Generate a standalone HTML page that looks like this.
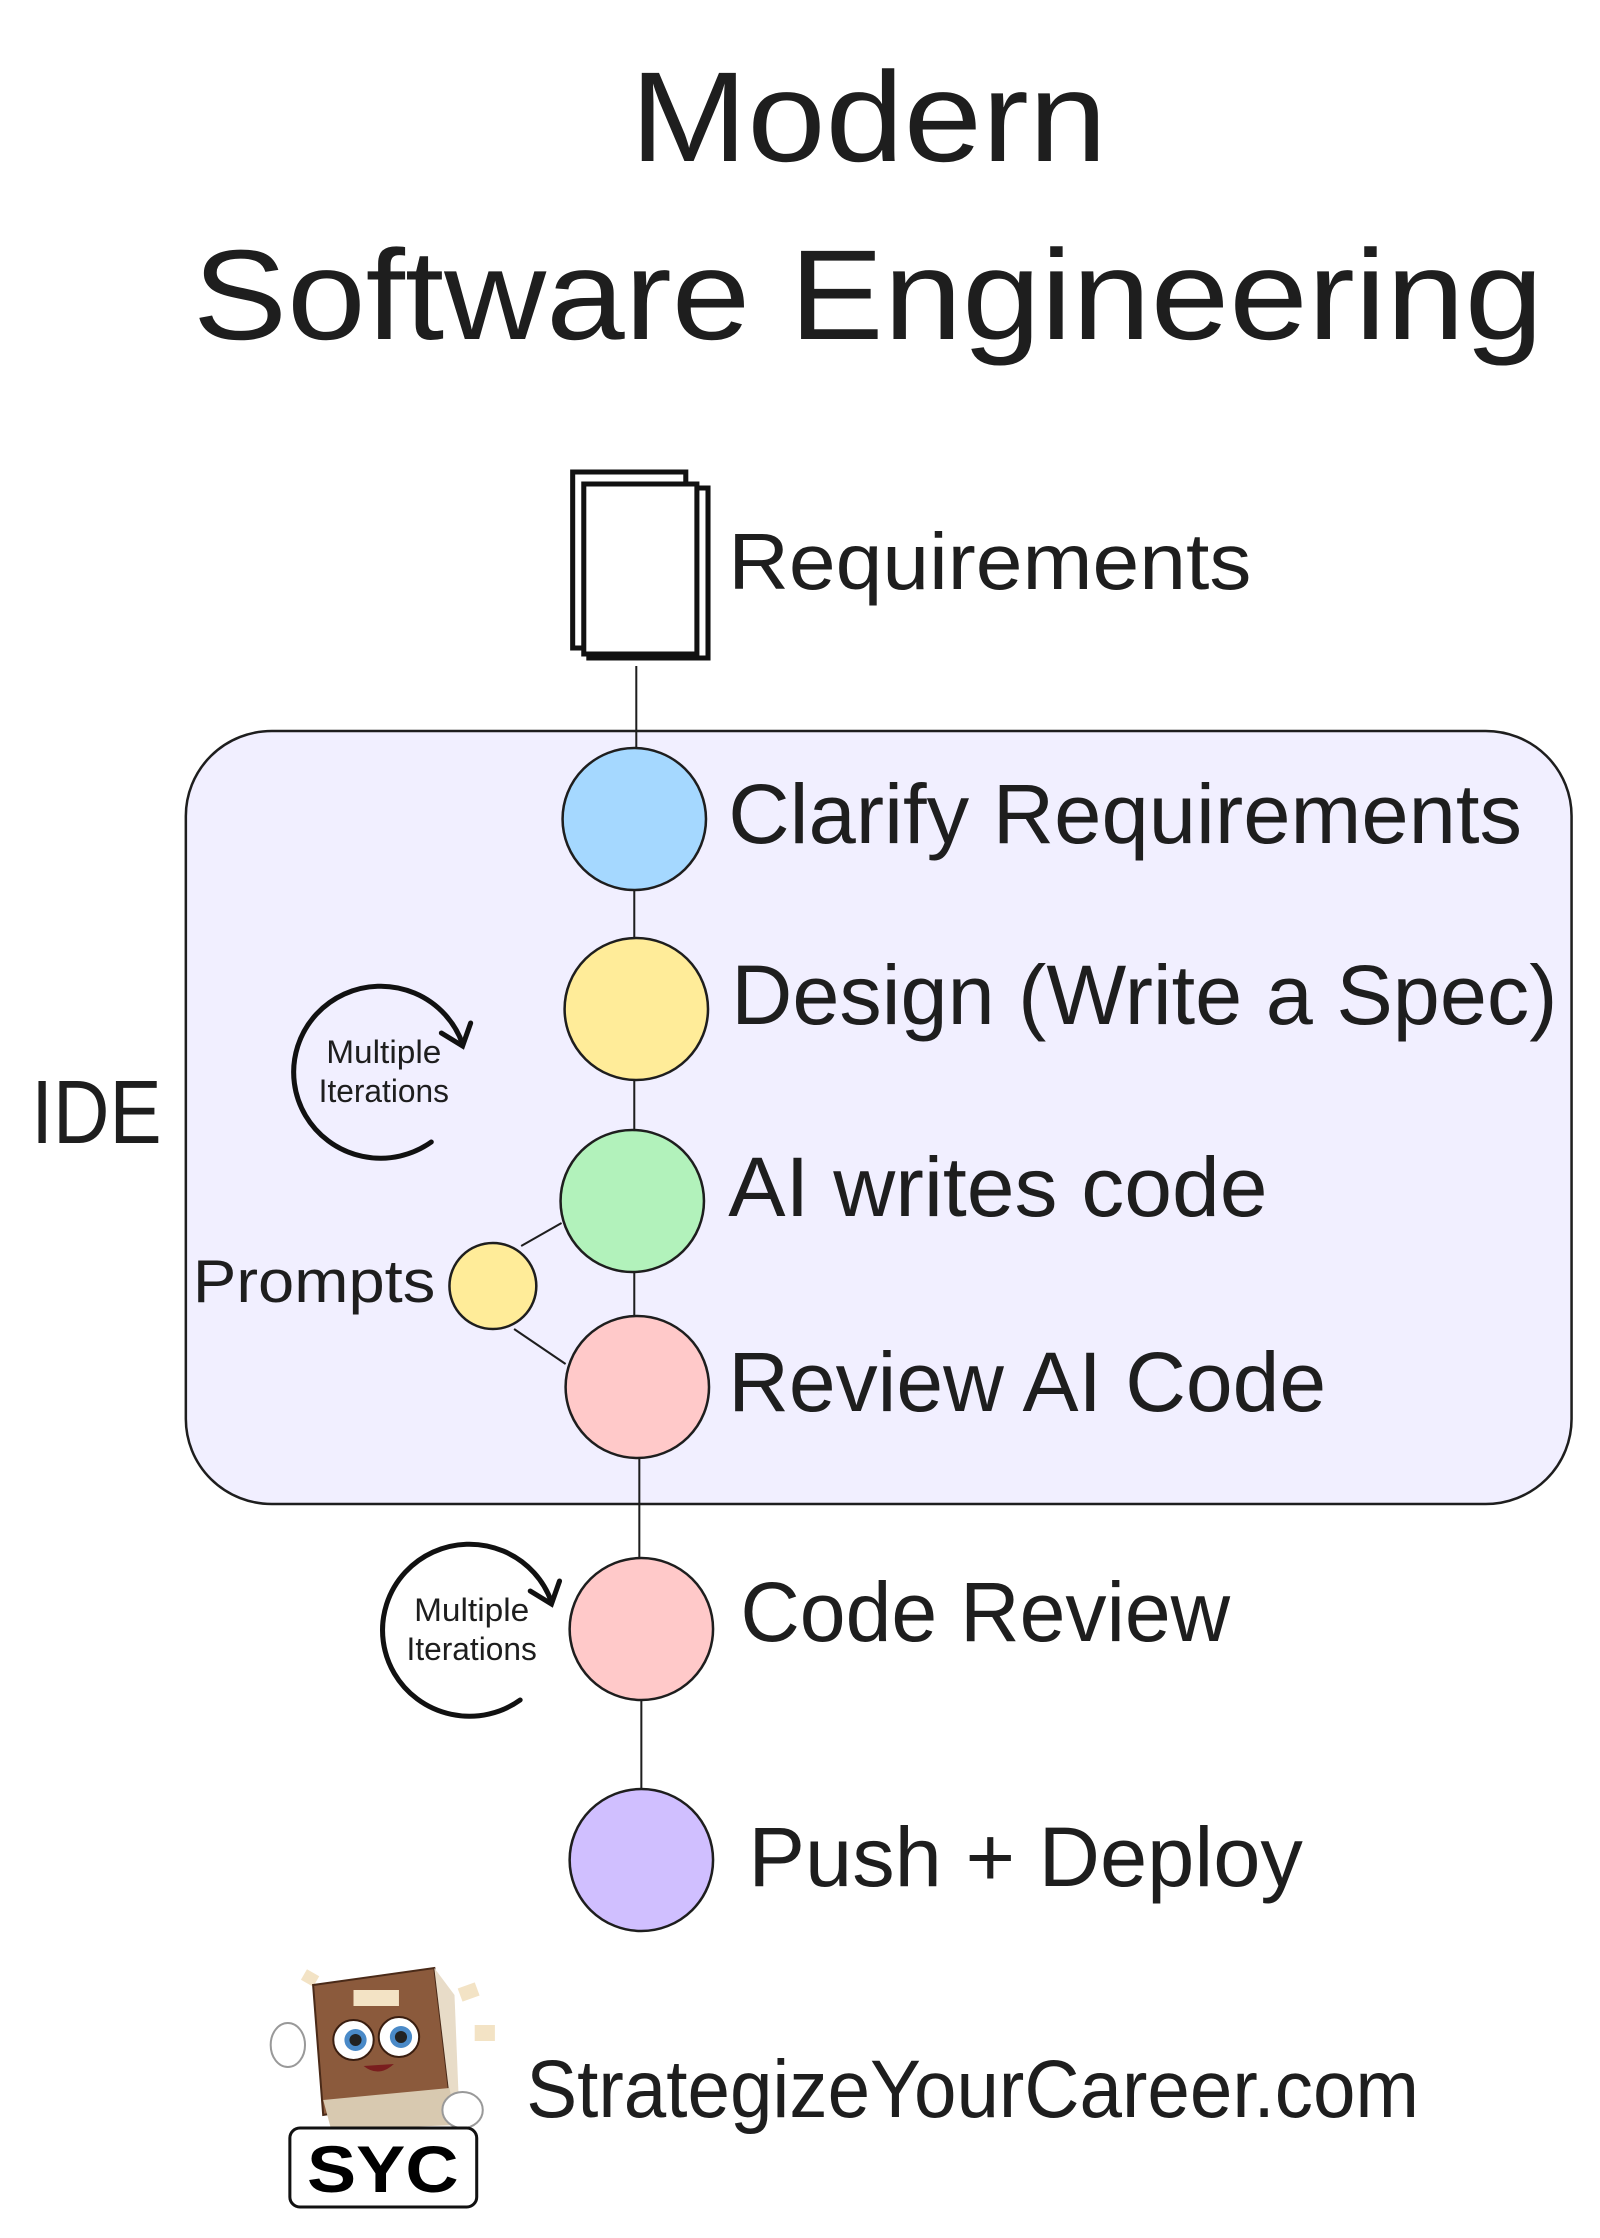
<!DOCTYPE html>
<html><head><meta charset="utf-8"><style>
html,body{margin:0;padding:0;background:#fff}
svg{display:block}
text{font-family:"Liberation Sans",sans-serif;fill:#1e1e1e}
</style></head><body>
<svg width="1600" height="2238" viewBox="0 0 1600 2238" xmlns="http://www.w3.org/2000/svg">
<rect width="1600" height="2238" fill="#fff"/>
<g transform="scale(1.01,1)">
<text x="860" y="161" font-size="128" text-anchor="middle" textLength="472" lengthAdjust="spacingAndGlyphs">Modern</text>
<text x="191" y="339" font-size="128" textLength="1337" lengthAdjust="spacingAndGlyphs">Software Engineering</text>

<g fill="#fff" stroke="#111" stroke-width="5">
<rect x="583" y="488" width="118" height="170"/>
<rect x="567" y="472" width="112" height="176"/>
<rect x="578" y="484" width="112" height="170"/>
</g>
<text x="721" y="589" font-size="80" textLength="518" lengthAdjust="spacingAndGlyphs">Requirements</text>

<rect x="184" y="731" width="1372" height="773" rx="85" fill="#f1efff" stroke="#1e1e1e" stroke-width="2.5"/>
<text x="31" y="1143" font-size="90" textLength="129" lengthAdjust="spacingAndGlyphs">IDE</text>

<g stroke="#1e1e1e" stroke-width="2">
<line x1="630" y1="666" x2="630" y2="748"/>
<line x1="628" y1="890" x2="628" y2="938"/>
<line x1="628" y1="1080" x2="628" y2="1130"/>
<line x1="628" y1="1272" x2="628" y2="1316"/>
<line x1="633" y1="1458" x2="633" y2="1558"/>
<line x1="635" y1="1700" x2="635" y2="1789"/>
<line x1="516" y1="1246" x2="556" y2="1223"/>
<line x1="509" y1="1329" x2="560" y2="1364"/>
</g>

<g stroke="#1e1e1e" stroke-width="2.5">
<ellipse cx="628" cy="819" rx="71" ry="71" fill="#a5d8ff"/>
<ellipse cx="630" cy="1009" rx="71" ry="71" fill="#ffec99"/>
<ellipse cx="626" cy="1201" rx="71" ry="71" fill="#b2f2bb"/>
<ellipse cx="631" cy="1387" rx="71" ry="71" fill="#ffc9c9"/>
<ellipse cx="635" cy="1629" rx="71" ry="71" fill="#ffc9c9"/>
<ellipse cx="635" cy="1860" rx="71" ry="71" fill="#d0bfff"/>
<ellipse cx="488" cy="1286" rx="43" ry="43" fill="#ffec99"/>
</g>

<text x="721" y="843" font-size="84" textLength="786" lengthAdjust="spacingAndGlyphs">Clarify Requirements</text>
<text x="724" y="1024" font-size="84" textLength="818" lengthAdjust="spacingAndGlyphs">Design (Write a Spec)</text>
<text x="721" y="1216" font-size="84" textLength="534" lengthAdjust="spacingAndGlyphs">AI writes code</text>
<text x="721" y="1411" font-size="84" textLength="592" lengthAdjust="spacingAndGlyphs">Review AI Code</text>
<text x="733" y="1641" font-size="84" textLength="485" lengthAdjust="spacingAndGlyphs">Code Review</text>
<text x="741" y="1886" font-size="84" textLength="549" lengthAdjust="spacingAndGlyphs">Push + Deploy</text>
<text x="191" y="1302" font-size="60" textLength="240" lengthAdjust="spacingAndGlyphs">Prompts</text>

<g fill="none" stroke="#111" stroke-width="5" stroke-linecap="round">
<path d="M427,1142 A86,86 0 1 1 458,1044"/>
<path d="M437,1033 L458,1046 L466,1023"/>
<path d="M515,1700 A86,86 0 1 1 546,1602"/>
<path d="M525,1591 L546,1604 L554,1581"/>
</g>
<text x="380" y="1063" font-size="32" text-anchor="middle" textLength="114" lengthAdjust="spacingAndGlyphs">Multiple</text>
<text x="380" y="1102" font-size="32" text-anchor="middle" textLength="129" lengthAdjust="spacingAndGlyphs">Iterations</text>
<text x="467" y="1621" font-size="32" text-anchor="middle" textLength="114" lengthAdjust="spacingAndGlyphs">Multiple</text>
<text x="467" y="1660" font-size="32" text-anchor="middle" textLength="129" lengthAdjust="spacingAndGlyphs">Iterations</text>

<g>
<rect x="300" y="1972" width="14" height="12" fill="#f3e3c5" transform="rotate(30 307 1978)"/>
<rect x="455" y="1985" width="18" height="14" fill="#f3e3c5" transform="rotate(-20 464 1992)"/>
<rect x="470" y="2025" width="20" height="16" fill="#f3e3c5"/>
<polygon points="310,1985 430,1968 445,2095 320,2115" fill="#8b5a3c" stroke="#4a2a18" stroke-width="2"/>
<polygon points="430,1968 450,1995 455,2120 445,2095" fill="#e8dcc8"/>
<polygon points="320,2100 445,2088 452,2125 328,2130" fill="#d8c9b0"/>
<rect x="350" y="1990" width="45" height="16" fill="#f3e3c5"/>
<circle cx="350" cy="2040" r="20" fill="#fff" stroke="#3a1e10" stroke-width="2"/>
<circle cx="395" cy="2037" r="20" fill="#fff" stroke="#3a1e10" stroke-width="2"/>
<circle cx="352" cy="2040" r="11" fill="#4a8ac8"/>
<circle cx="397" cy="2037" r="11" fill="#4a8ac8"/>
<circle cx="352" cy="2040" r="6" fill="#222"/>
<circle cx="397" cy="2037" r="6" fill="#222"/>
<path d="M360,2066 Q375,2078 390,2064 Z" fill="#7a1e1e"/>
<ellipse cx="285" cy="2045" rx="17" ry="22" fill="#fff" stroke="#999" stroke-width="2"/>
<ellipse cx="458" cy="2110" rx="20" ry="18" fill="#fff" stroke="#999" stroke-width="2"/>
<rect x="287" y="2128" width="185" height="79" rx="10" fill="#fff" stroke="#111" stroke-width="3"/>
<text x="379" y="2192" font-size="66" font-weight="bold" text-anchor="middle" style="fill:#000" textLength="150" lengthAdjust="spacingAndGlyphs">SYC</text>
</g>
<text x="521" y="2117" font-size="82" textLength="884" lengthAdjust="spacingAndGlyphs">StrategizeYourCareer.com</text>
</g>
</svg>
</body></html>
